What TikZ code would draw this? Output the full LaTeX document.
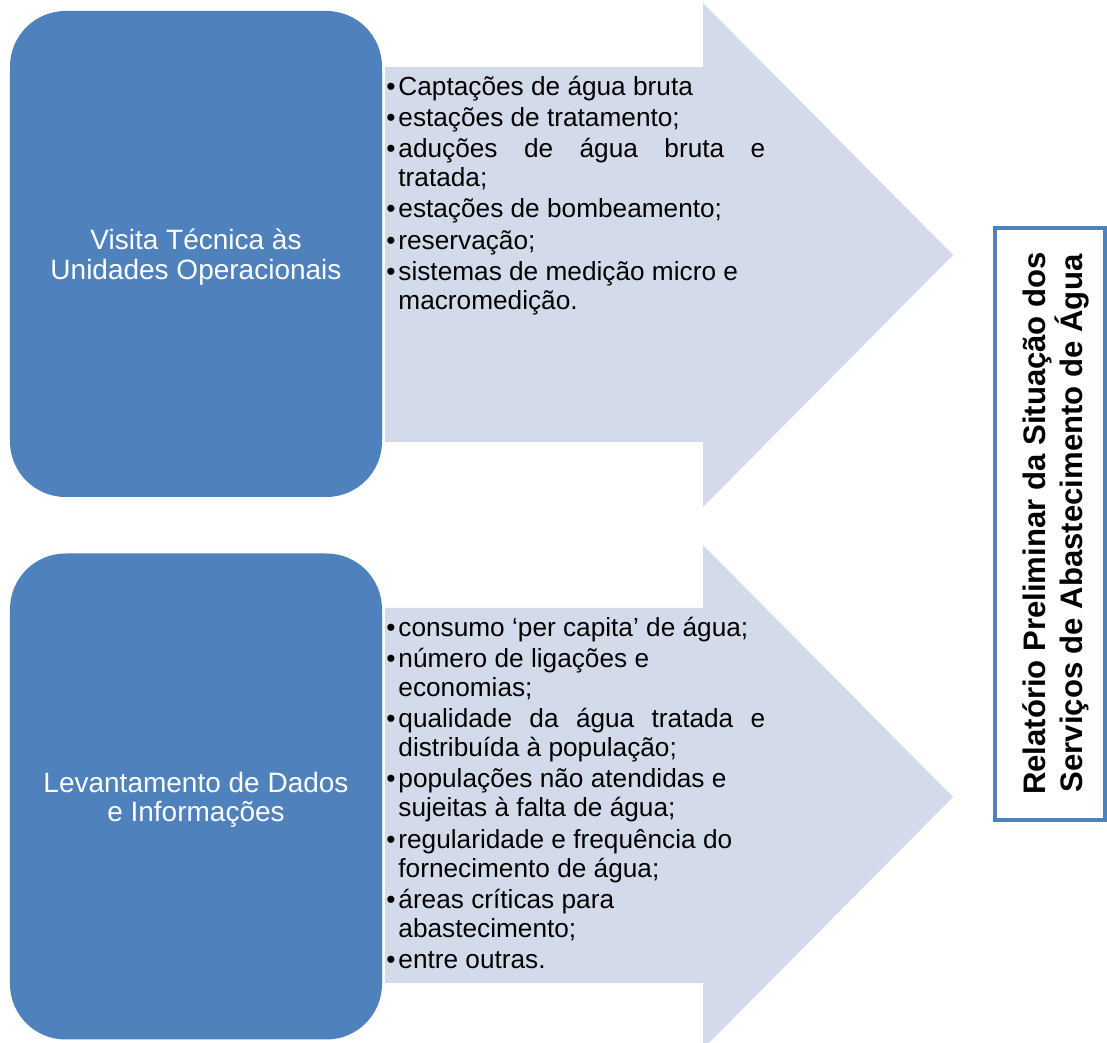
\documentclass[tikz,border=0pt]{standalone}
\usepackage{fontspec}
\setmainfont{Liberation Sans}
\usetikzlibrary{positioning}
\definecolor{azulbox}{RGB}{79,129,189}
\definecolor{azulseta}{RGB}{211,219,234}
\hyphenpenalty=10000
\exhyphenpenalty=10000
\tolerance=10000
\newcommand{\bitem}[1]{\par\noindent\hangindent=5.4pt\hangafter=1\makebox[5.4pt][l]{\textbullet}#1}
\newcommand{\quebra}{\hfil\break}

\begin{document}
\begin{tikzpicture}[
  x=0.45pt,
  y=-0.45pt,
  seta/.style={fill=azulseta, draw=none},
  etapa/.style={rectangle, rounded corners=25pt, fill=azulbox, text=white,
    minimum width=167.4pt, minimum height=218.7pt, align=center,
    font=\fontsize{12.6}{13.2}\selectfont},
  lista/.style={anchor=base west, inner sep=0pt, text width=170.5pt, align=justify,
    font=\fontsize{11.8}{13.05}\selectfont\setlength{\parskip}{1pt}},
  relat/.style={rectangle, draw=azulbox, line width=1.8pt, fill=white,
    minimum width=49.5pt, minimum height=266.4pt},
  relattxt/.style={rotate=90, inner sep=0pt, align=center,
    font=\bfseries\fontsize{14}{16.8}\selectfont}
  ]
    \useasboundingbox (0,0) rectangle (1107,1043);

    % setas
    \draw[seta] (385,67) -- (703,67) -- (703,3) -- (953,255) -- (703,507) -- (703,442) -- (385,442) -- cycle;
    \draw[seta] (385,608) -- (703,608) -- (703,545) -- (953,797) -- (703,1049) -- (703,983) -- (385,983) -- cycle;

    % etapas
    \node[etapa] (visita) at (196,254) {};
    \node[etapa] (levantamento) at (196,796.5) {};
    \node[text=white, align=center, font=\fontsize{12.6}{13.2}\selectfont] (visitatxt) at (196,257) {Visita Técnica às\\Unidades Operacionais};
    \node[text=white, align=center, font=\fontsize{12.6}{13.2}\selectfont] (levanttxt) at (196,799.5) {Levantamento de Dados\\e Informações};

    % listas
    \node[lista] (listavisita) at (386,64) {%
      \bitem{Captações de água bruta}
      \bitem{estações de tratamento;}
      \bitem{aduções de água bruta e tratada;}
      \bitem{estações de bombeamento;}
      \bitem{reservação;}
      \bitem{sistemas de medição micro e\quebra macromedição.}\par};

    \node[lista] (listalevant) at (386,605) {%
      \bitem{consumo ‘per capita’ de água;}
      \bitem{número de ligações e\quebra economias;}
      \bitem{qualidade da água tratada e distribuída à população;}
      \bitem{populações não atendidas e\quebra sujeitas à falta de água;}
      \bitem{regularidade e frequência do\quebra fornecimento de água;}
      \bitem{áreas críticas para\quebra abastecimento;}
      \bitem{entre outras.}\par};

    % relatorio
    \node[relat] (relatorio) at (1050,524) {};
    \node[relattxt] (relatoriotxt) at (1056,523.5) {Relatório Preliminar da Situação dos\\Serviços de Abastecimento de Água};

\end{tikzpicture}
\end{document}
